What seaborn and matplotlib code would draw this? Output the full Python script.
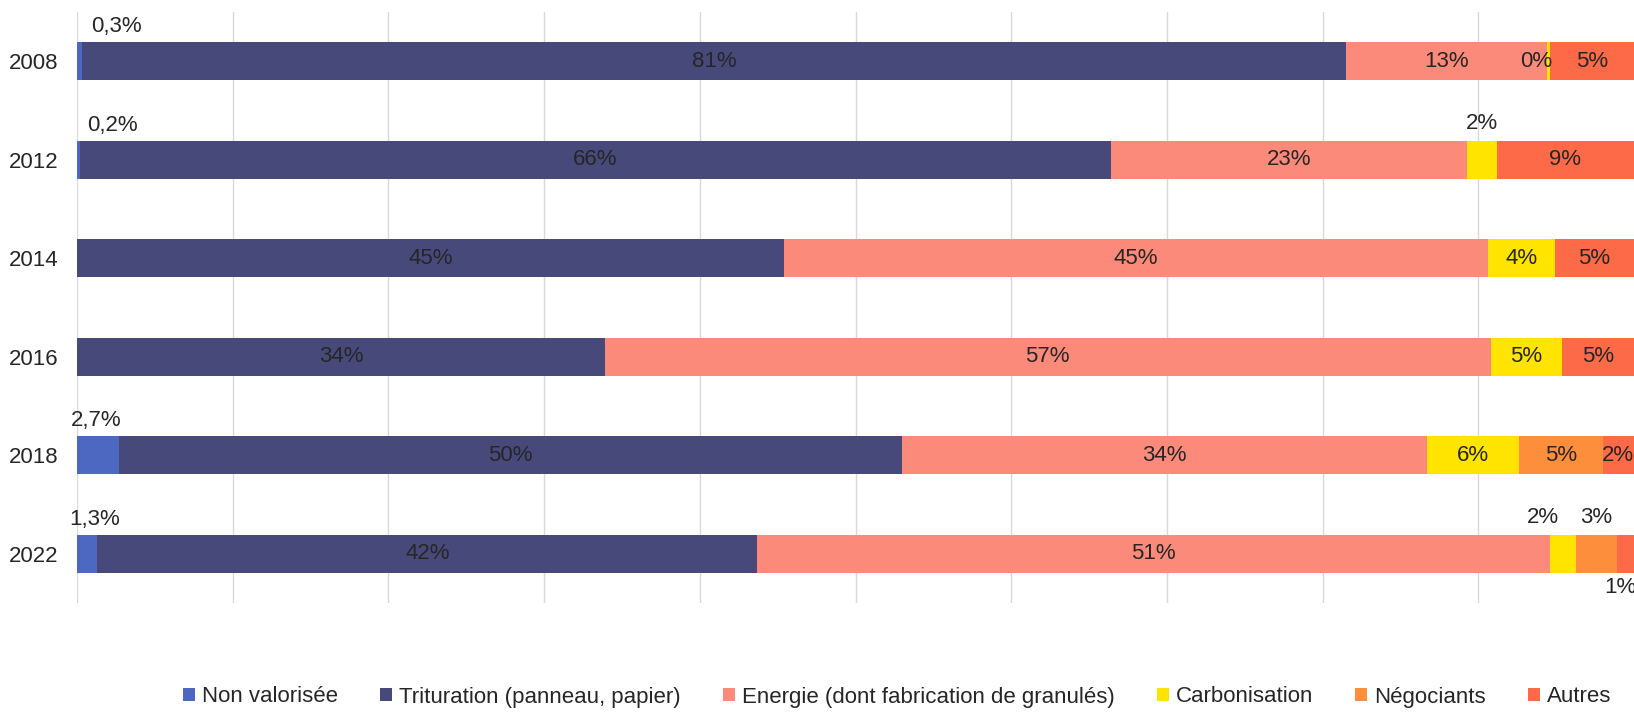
import numpy as np
import pandas as pd
import matplotlib.pyplot as plt
import seaborn as sns

years = ["2008", "2012", "2014", "2016", "2018", "2022"]
categories = [
    "Non valorisée",
    "Trituration (panneau, papier)",
    "Energie (dont fabrication de granulés)",
    "Carbonisation",
    "Négociants",
    "Autres",
]
non_valorisee = [0.3, 0.2, 0.0, 0.0, 2.7, 1.3]
trituration = [81.2, 66.2, 45.4, 33.9, 50.3, 42.4]
energie = [12.9, 22.9, 45.2, 56.9, 33.7, 50.9]
carbonisation = [0.2, 1.9, 4.3, 4.6, 5.9, 1.7]
negociants = [0.0, 0.0, 0.0, 0.0, 5.4, 2.6]
autres = [5.4, 8.8, 5.1, 4.6, 2.0, 1.1]

colors = ["#4C68C0", "#47497A", "#FC8A7B", "#FFE400", "#FD8E3C", "#FC6A47"]

# labels that sit outside the bar: (year, category) -> (dx in %, dy in bar units)
outside = {
    ("2008", "Non valorisée"): (2.4, -0.35),
    ("2012", "Non valorisée"): (2.2, -0.35),
    ("2018", "Non valorisée"): (-0.1, -0.35),
    ("2022", "Non valorisée"): (0.5, -0.35),
    ("2012", "Carbonisation"): (0.0, -0.37),
    ("2022", "Carbonisation"): (-1.3, -0.37),
    ("2022", "Négociants"): (0.0, -0.37),
    ("2022", "Autres"): (-0.3, 0.34),
}
inside_nudge = {("2008", "Carbonisation"): -0.8}

FS = 16


def main():
    sns.set_theme(style="white")
    plt.rcParams["font.family"] = ["Liberation Sans", "DejaVu Sans"]

    values = np.array([non_valorisee, trituration, energie, carbonisation, negociants, autres])
    cum = values.cumsum(axis=0)
    left = cum - values

    fig = plt.figure(figsize=(16.34, 7.13), dpi=100)
    ax = fig.add_axes([77 / 1634, 1 - 603 / 713, 1 - 77 / 1634, (603 - 12) / 713])

    # stacked bars: draw cumulative totals from the last category to the first
    for i in range(len(categories) - 1, -1, -1):
        df = pd.DataFrame({"year": years, "value": cum[i]})
        sns.barplot(data=df, x="value", y="year", orient="h", color=colors[i],
                    saturation=1, width=0.39, label=categories[i], ax=ax,
                    linewidth=0, zorder=2)

    for i, cat in enumerate(categories):
        for j, yr in enumerate(years):
            v = values[i, j]
            if v <= 0:
                continue
            if i == 0:
                txt = f"{v:.1f}".replace(".", ",") + "%"
            else:
                txt = f"{int(v + 0.5)}%"
            mid = left[i, j] + v / 2
            if (yr, cat) in outside:
                dx, dy = outside[(yr, cat)]
                ax.text(mid + dx, j + dy, txt, ha="center", va="center",
                        fontsize=FS, color="#262626", zorder=3, clip_on=False)
            else:
                ax.text(mid + inside_nudge.get((yr, cat), 0), j, txt, ha="center",
                        va="center", fontsize=FS, color="#262626", zorder=3)

    ax.set_xlim(0, 100)
    ax.set_xticks(np.arange(0, 100, 10))
    ax.set_xticklabels([])
    ax.grid(axis="x", color="#D9D9D9", linewidth=1, zorder=0)
    ax.set_axisbelow(True)
    ax.set_xlabel("")
    ax.set_ylabel("")
    ax.tick_params(axis="y", length=0, pad=13.5, labelsize=FS, labelcolor="#262626")
    ax.tick_params(axis="x", length=0)
    for s in ax.spines.values():
        s.set_visible(False)

    handles, labels = ax.get_legend_handles_labels()
    order = [labels.index(c) for c in categories]
    if ax.get_legend():
        ax.get_legend().remove()
    fig.legend([handles[k] for k in order], categories, loc="center",
               bbox_to_anchor=(0.549, 1 - 697 / 713), ncol=6, frameon=False,
               fontsize=FS, handlelength=0.55, handleheight=0.55, handletextpad=0.3,
               columnspacing=1.9, labelcolor="#262626")

    fig.savefig("out.png", dpi=100)


if __name__ == "__main__":
    main()
